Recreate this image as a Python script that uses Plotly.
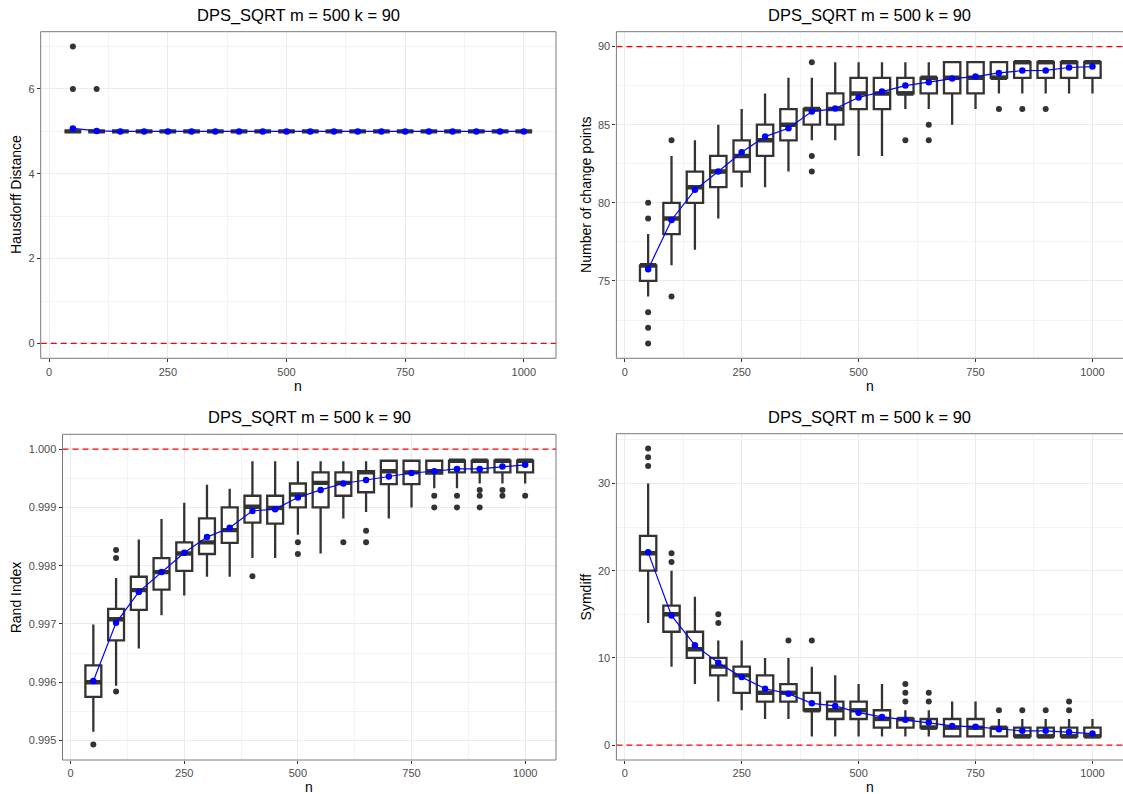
import plotly.graph_objects as go

# ---- sample sizes (one box per n) ----
n_vals = [50, 100, 150, 200, 250, 300, 350, 400, 450, 500,
          550, 600, 650, 700, 750, 800, 850, 900, 950, 1000]

# ---- Hausdorff distance ----
hd_q1 = [5, 5, 5, 5, 5, 5, 5, 5, 5, 5, 5, 5, 5, 5, 5, 5, 5, 5, 5, 5]
hd_median = [5, 5, 5, 5, 5, 5, 5, 5, 5, 5, 5, 5, 5, 5, 5, 5, 5, 5, 5, 5]
hd_q3 = [5, 5, 5, 5, 5, 5, 5, 5, 5, 5, 5, 5, 5, 5, 5, 5, 5, 5, 5, 5]
hd_lo = [5, 5, 5, 5, 5, 5, 5, 5, 5, 5, 5, 5, 5, 5, 5, 5, 5, 5, 5, 5]
hd_hi = [5, 5, 5, 5, 5, 5, 5, 5, 5, 5, 5, 5, 5, 5, 5, 5, 5, 5, 5, 5]
hd_mean = [5.07, 5.01, 5.0, 5.0, 5.0, 5.0, 5.0, 5.0, 5.0, 5.0,
           5.0, 5.0, 5.0, 5.0, 5.0, 5.0, 5.0, 5.0, 5.0, 5.0]
hd_out_n = [50, 50, 100]
hd_out_v = [7, 6, 6]

# ---- number of change points ----
cp_q1 = [75, 78, 80, 81, 82, 83, 84, 85, 85, 86, 86, 87, 87, 87, 87, 88, 88, 88, 88, 88]
cp_median = [76, 79, 81, 82, 83, 84, 85, 86, 86, 87, 87, 87, 88, 88, 88, 88, 89, 89, 89, 89]
cp_q3 = [76, 80, 82, 83, 84, 85, 86, 86, 87, 88, 88, 88, 88, 89, 89, 89, 89, 89, 89, 89]
cp_lo = [74, 76, 77, 79, 81, 81, 82, 84, 84, 83, 83, 86, 86, 85, 86, 87, 87, 87, 87, 87]
cp_hi = [78, 83, 84, 85, 86, 87, 88, 88, 89, 89, 89, 89, 89, 89, 89, 89, 89, 89, 89, 89]
cp_mean = [75.75, 78.9, 80.83, 82.0, 83.24, 84.24, 84.77, 85.84, 86.03, 86.74,
           87.12, 87.5, 87.72, 87.95, 88.08, 88.31, 88.46, 88.47, 88.66, 88.72]
cp_out_n = [50, 50, 50, 50, 50, 100, 100, 400, 400, 400, 600, 650, 650, 800, 850, 900]
cp_out_v = [80, 79, 73, 72, 71, 84, 74, 89, 83, 82, 84, 85, 84, 86, 86, 86]

# ---- Rand index ----
ri_q1 = [0.99575, 0.99672, 0.99724, 0.99759, 0.99791, 0.99820, 0.99839, 0.99874, 0.99872, 0.99900,
         0.99900, 0.99920, 0.99926, 0.99940, 0.99940, 0.99958, 0.99960, 0.99960, 0.99960, 0.99960]
ri_median = [0.99600, 0.99708, 0.99758, 0.99789, 0.99821, 0.99840, 0.99861, 0.99901, 0.99899, 0.99922,
             0.99942, 0.99942, 0.99960, 0.99962, 0.99960, 0.99962, 0.99980, 0.99980, 0.99980, 0.99980]
ri_q3 = [0.99629, 0.99726, 0.99781, 0.99813, 0.99840, 0.99881, 0.99900, 0.99920, 0.99920, 0.99941,
         0.99960, 0.99960, 0.99962, 0.99980, 0.99980, 0.99980, 0.99980, 0.99980, 0.99980, 0.99980]
ri_lo = [0.99515, 0.99594, 0.99658, 0.99715, 0.99749, 0.99781, 0.99781, 0.99813, 0.99813, 0.99853,
         0.99821, 0.99881, 0.99892, 0.99881, 0.99900, 0.99933, 0.99933, 0.99941, 0.99941, 0.99941]
ri_hi = [0.99699, 0.99779, 0.99845, 0.99880, 0.99908, 0.99939, 0.99932, 0.99979, 0.99979, 0.99979,
         0.99979, 0.99979, 0.99979, 0.99980, 0.99980, 0.99980, 0.99980, 0.99980, 0.99980, 0.99980]
ri_mean = [0.99602, 0.99702, 0.99755, 0.99789, 0.99822, 0.99849, 0.99865, 0.99894, 0.99897, 0.99917,
           0.99930, 0.99941, 0.99947, 0.99953, 0.99959, 0.99962, 0.99966, 0.99966, 0.99970, 0.99973]
ri_out_n = [50, 100, 100, 100, 400, 500, 500, 600, 650, 650,
            800, 800, 850, 850, 900, 900, 900, 950, 950, 1000]
ri_out_v = [0.99493, 0.99827, 0.99813, 0.99584, 0.99782, 0.99840, 0.99820, 0.99840, 0.99860, 0.99840,
            0.99920, 0.99900, 0.99920, 0.99900, 0.99930, 0.99920, 0.99900, 0.99930, 0.99920, 0.99920]

# ---- symmetric difference ----
sd_q1 = [20, 13, 10, 8, 6, 5, 5, 4, 3, 3, 2, 2, 2, 1, 1, 1, 1, 1, 1, 1]
sd_median = [22, 15, 11, 9, 8, 6, 6, 4, 4, 4, 3, 3, 2, 2, 2, 2, 1, 1, 1, 1]
sd_q3 = [24, 16, 13, 10, 9, 8, 7, 6, 5, 5, 4, 3, 3, 3, 3, 2, 2, 2, 2, 2]
sd_lo = [14, 9, 7, 5, 4, 3, 3, 1, 1, 1, 1, 1, 1, 1, 1, 1, 1, 1, 1, 1]
sd_hi = [30, 20, 17, 12, 12, 10, 10, 9, 8, 7, 7, 4, 4, 5, 5, 3, 3, 3, 3, 3]
sd_mean = [22.1, 14.85, 11.46, 9.44, 7.8, 6.47, 5.9, 4.8, 4.5, 3.73,
           3.24, 2.9, 2.6, 2.2, 2.1, 1.83, 1.64, 1.64, 1.52, 1.33]
sd_out_n = [50, 50, 50, 100, 100, 200, 200, 350, 400, 600, 600, 600, 650, 650, 800, 850, 900, 950, 950]
sd_out_v = [34, 33, 32, 22, 21, 15, 14, 12, 12, 7, 6, 5, 6, 5, 4, 4, 4, 5, 4]

# ---- panel texts and reference levels ----
panel_title = "DPS_SQRT m = 500 k = 90"
y_titles = ["Hausdorff Distance", "Number of change points", "Rand Index", "Symdiff"]
ref_levels = [0, 90, 1.0, 0]

W, H = 1123, 794
FONT = "Liberation Sans, Arial, Helvetica, sans-serif"
DARK = "#333333"
BOX_W = 35

panels = [
    dict(q1=hd_q1, med=hd_median, q3=hd_q3, lo=hd_lo, hi=hd_hi, mean=hd_mean,
         on=hd_out_n, ov=hd_out_v, xa="x", ya="y",
         xdom=[40.7, 556.0], ydom=[31.7, 358.3], xrng=[-17.85, 1067.85],
         yrng=[-0.35, 7.35], ytick=[0, 2, 4, 6], ydt=2, yt0=0, yminor=1, yfmt=None),
    dict(q1=cp_q1, med=cp_median, q3=cp_q3, lo=cp_lo, hi=cp_hi, mean=cp_mean,
         on=cp_out_n, ov=cp_out_v, xa="x2", ya="y2",
         xdom=[616.4, 1123.0], ydom=[31.7, 358.3], xrng=[-17.85, 1065.3],
         yrng=[70.05, 90.95], ytick=[75, 80, 85, 90], ydt=5, yt0=75, yminor=2.5, yfmt=None),
    dict(q1=ri_q1, med=ri_median, q3=ri_q3, lo=ri_lo, hi=ri_hi, mean=ri_mean,
         on=ri_out_n, ov=ri_out_v, xa="x3", ya="y3",
         xdom=[62.5, 556.0], ydom=[434.3, 760.0], xrng=[-17.85, 1067.85],
         yrng=[0.994666, 1.000254], ytick=[0.995, 0.996, 0.997, 0.998, 0.999, 1.0],
         ydt=0.001, yt0=0.995, yminor=0.0005, yfmt=".3f"),
    dict(q1=sd_q1, med=sd_median, q3=sd_q3, lo=sd_lo, hi=sd_hi, mean=sd_mean,
         on=sd_out_n, ov=sd_out_v, xa="x4", ya="y4",
         xdom=[616.4, 1123.0], ydom=[433.7, 760.0], xrng=[-17.85, 1065.3],
         yrng=[-1.7, 35.7], ytick=[0, 10, 20, 30], ydt=10, yt0=0, yminor=5, yfmt=None),
]

fig = go.Figure()
shapes = []
annotations = []
layout_axes = {}

for i, p in enumerate(panels):
    xa, ya = p["xa"], p["ya"]

    # boxes from the summary statistics
    fig.add_trace(go.Box(
        x=n_vals, q1=p["q1"], median=p["med"], q3=p["q3"],
        lowerfence=p["lo"], upperfence=p["hi"],
        width=BOX_W, whiskerwidth=0, boxpoints=False,
        fillcolor="white", line=dict(color=DARK, width=2.3),
        xaxis=xa, yaxis=ya, showlegend=False, hoverinfo="skip"))

    # heavier median bars
    mx, my = [], []
    for n, m in zip(n_vals, p["med"]):
        mx += [n - BOX_W / 2, n + BOX_W / 2, None]
        my += [m, m, None]
    fig.add_trace(go.Scatter(x=mx, y=my, mode="lines",
                             line=dict(color=DARK, width=4.4),
                             xaxis=xa, yaxis=ya, showlegend=False, hoverinfo="skip"))

    # outliers
    fig.add_trace(go.Scatter(x=p["on"], y=p["ov"], mode="markers",
                             marker=dict(color=DARK, size=6),
                             xaxis=xa, yaxis=ya, showlegend=False, hoverinfo="skip"))

    # mean curve
    fig.add_trace(go.Scatter(x=n_vals, y=p["mean"], mode="lines+markers",
                             line=dict(color="blue", width=1.2),
                             marker=dict(color="blue", size=6.5),
                             xaxis=xa, yaxis=ya, showlegend=False, hoverinfo="skip"))

    # reference level
    shapes.append(dict(type="line", xref=f"{xa} domain", x0=0, x1=1,
                       yref=ya, y0=ref_levels[i], y1=ref_levels[i],
                       line=dict(color="red", width=1.2, dash="6px,4px"), layer="above"))

    x0f, x1f = p["xdom"][0] / W, min(p["xdom"][1] / W, 1.0)
    y0f, y1f = 1 - p["ydom"][1] / H, 1 - p["ydom"][0] / H

    # panel border (right-hand panels run off the canvas edge)
    shapes.append(dict(type="rect", xref="paper", yref="paper",
                       x0=x0f, x1=(x1f if x1f < 1 else 1.01), y0=y0f, y1=y1f,
                       line=dict(color="#7a7a7a", width=1), fillcolor="rgba(0,0,0,0)",
                       layer="above"))

    common = dict(showgrid=True, gridcolor="#EBEBEB", gridwidth=1.1, zeroline=False,
                  showline=False, ticks="outside", ticklen=3, tickcolor=DARK, tickwidth=1,
                  tickfont=dict(family=FONT, size=11, color="#4D4D4D"))
    xname = "xaxis" if xa == "x" else "xaxis" + xa[1:]
    yname = "yaxis" if ya == "y" else "yaxis" + ya[1:]
    layout_axes[xname] = dict(common, domain=[x0f, x1f], range=p["xrng"], anchor=ya,
                              tickvals=[0, 250, 500, 750, 1000],
                              minor=dict(tick0=0, dtick=125, showgrid=True,
                                         gridcolor="#F3F3F3", gridwidth=0.6, ticks=""))
    yax = dict(common, domain=[y0f, y1f], range=p["yrng"], anchor=xa,
               tickvals=p["ytick"],
               minor=dict(tick0=p["yt0"] - p["yminor"], dtick=p["ydt"], showgrid=True,
                          gridcolor="#F3F3F3", gridwidth=0.6, ticks=""))
    if p["yfmt"]:
        yax["tickformat"] = p["yfmt"]
    layout_axes[yname] = yax

# titles and axis labels
title_pos = [(298.2, 15), (869.8, 15), (309.3, 417.3), (869.8, 417.3)]
xlab_pos = [(298.2, 386), (869.6, 386), (309.0, 787), (869.6, 787)]
ylab_pos = [(16, 195), (585.7, 195.2), (16, 597.3), (585.7, 596.7)]
for i in range(4):
    tx, ty = title_pos[i]
    annotations.append(dict(text=panel_title, x=tx / W, y=1 - ty / H, xref="paper", yref="paper",
                            showarrow=False, xanchor="center", yanchor="middle",
                            font=dict(family=FONT, size=16.5, color="black")))
    lx, ly = xlab_pos[i]
    annotations.append(dict(text="n", x=lx / W, y=1 - ly / H, xref="paper", yref="paper",
                            showarrow=False, xanchor="center", yanchor="middle",
                            font=dict(family=FONT, size=14, color="black")))
    yx, yy = ylab_pos[i]
    annotations.append(dict(text=y_titles[i], x=yx / W, y=1 - yy / H, xref="paper", yref="paper",
                            showarrow=False, xanchor="center", yanchor="middle", textangle=-90,
                            font=dict(family=FONT, size=14, color="black")))

fig.update_layout(
    width=W, height=H,
    margin=dict(l=0, r=0, t=0, b=0),
    paper_bgcolor="white", plot_bgcolor="white",
    showlegend=False,
    shapes=shapes, annotations=annotations,
    **layout_axes,
)

fig.write_html("out.html")
